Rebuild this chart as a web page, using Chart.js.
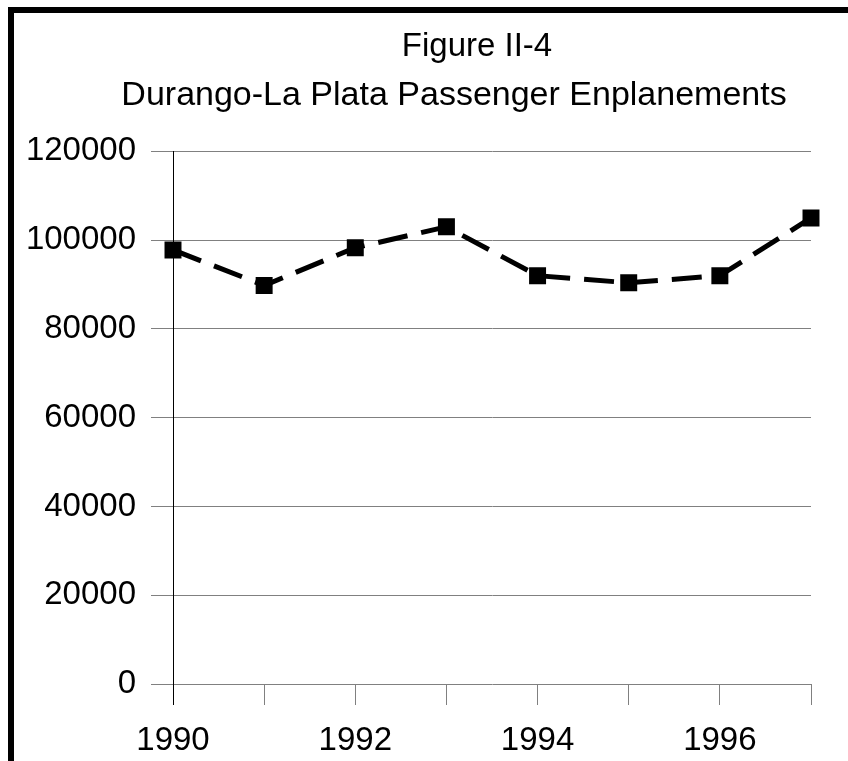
<!DOCTYPE html>
<html>
<head>
<meta charset="utf-8">
<script src="https://cdn.jsdelivr.net/npm/chart.js@4/dist/chart.umd.min.js"></script>
<style>
  html, body { margin: 0; padding: 0; background: #fff; overflow: hidden; }
  #wrap { position: relative; width: 848px; height: 761px; }
  #c { position: absolute; left: 0; top: 0; }
  #frame { position: absolute; left: 8px; top: 7px; width: 840px; height: 754px;
           border-left: 6px solid #000; border-top: 6px solid #000; box-sizing: border-box; pointer-events: none; }
</style>
</head>
<body>
<div id="wrap">
  <canvas id="c" width="848" height="761"></canvas>
  <div id="frame"></div>
</div>
<script>
const titleText = "Figure II-4";
const subtitleText = "Durango-La Plata Passenger Enplanements";
const years = ["1990", "1991", "1992", "1993", "1994", "1995", "1996", "1997"];
const enplanements = [97800, 89800, 98300, 103000, 92000, 90400, 92000, 105000];
const yTicks = [0, 20000, 40000, 60000, 80000, 100000, 120000];

const FONT = "'Liberation Sans', Arial, sans-serif";

// Re-centre the title blocks horizontally (layout only).
const titleCentres = { title: 477, subtitle: 454 };
const titleShift = {
  id: 'titleShift',
  afterLayout(chart) {
    chart.boxes.forEach(b => {
      if (!b.options || b.options.text === undefined) return;
      const c = b.options.text === titleText ? titleCentres.title :
                b.options.text === subtitleText ? titleCentres.subtitle : null;
      if (c === null) return;
      b.left = c - 380;
      b.right = c + 380;
      b.width = 760;
    });
  }
};

new Chart(document.getElementById('c'), {
  type: 'line',
  data: {
    labels: years,
    datasets: [{
      label: subtitleText,
      data: enplanements,
      borderColor: '#000',
      backgroundColor: '#000',
      borderWidth: 5,
      borderDash: [30, 14],
      tension: 0,
      fill: false,
      pointStyle: 'rect',
      pointRadius: 12,
      pointBackgroundColor: '#000',
      pointBorderColor: '#000',
      pointBorderWidth: 0
    }]
  },
  plugins: [titleShift],
  options: {
    responsive: false,
    animation: false,
    devicePixelRatio: 1,
    layout: { padding: { left: 14, top: 13, right: 37, bottom: 0 } },
    plugins: {
      legend: { display: false },
      tooltip: { enabled: false },
      title: {
        display: true,
        text: titleText,
        color: '#000',
        font: { family: FONT, size: 33, weight: 'normal', lineHeight: 1.2 },
        padding: { top: 14, bottom: 0 }
      },
      subtitle: {
        display: true,
        text: subtitleText,
        color: '#000',
        font: { family: FONT, size: 34, weight: 'normal', lineHeight: 1.2 },
        padding: { top: 9, bottom: 35 }
      }
    },
    scales: {
      x: {
        type: 'category',
        offset: false,
        grid: {
          drawOnChartArea: false,
          drawTicks: true,
          tickLength: 21,
          color: (ctx) => ctx.index === 0 ? '#000' : '#808080',
          lineWidth: 1
        },
        border: { display: false },
        ticks: {
          autoSkip: false,
          maxRotation: 0,
          minRotation: 0,
          padding: 16,
          color: '#000',
          font: { family: FONT, size: 33 },
          callback: (v, i) => (i % 2 === 0 ? years[i] : '')
        },
        afterFit: (s) => { s.height = 77; }
      },
      y: {
        min: yTicks[0],
        max: yTicks[yTicks.length - 1],
        afterBuildTicks: (s) => { s.ticks = yTicks.map(v => ({ value: v })); },
        grid: {
          color: '#808080',
          lineWidth: 1,
          drawTicks: true,
          tickLength: 22
        },
        border: { display: true, color: '#000', width: 1 },
        ticks: {
          padding: 15,
          color: '#000',
          font: { family: FONT, size: 33 },
          callback: (v) => String(v)
        },
        afterFit: (s) => { s.width = 159; }
      }
    }
  }
});
</script>
</body>
</html>
